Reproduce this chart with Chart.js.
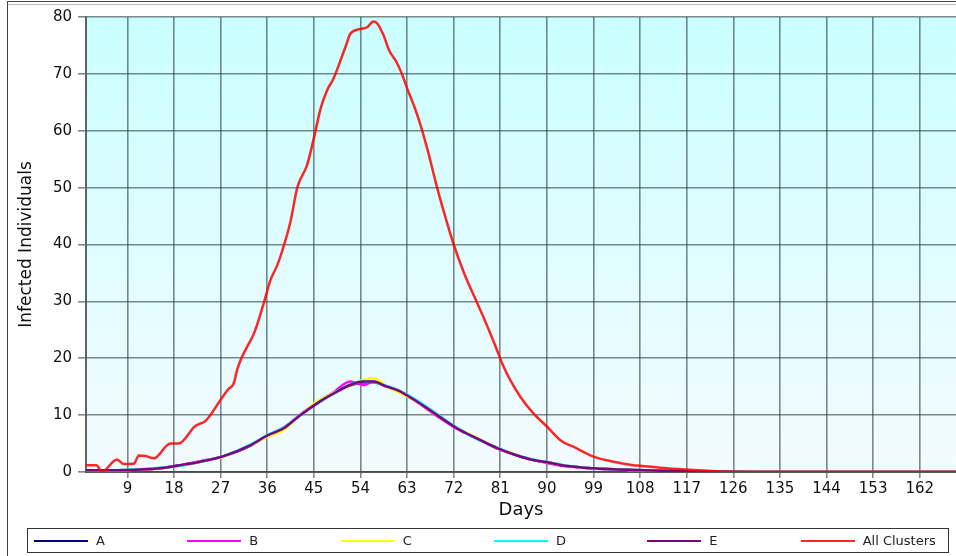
<!DOCTYPE html>
<html>
<head>
<meta charset="utf-8">
<script src="https://cdn.jsdelivr.net/npm/chart.js@4.4.1/dist/chart.umd.min.js"></script>
<style>
  body { margin: 0; background: #fff; }
  #wrap { position: relative; width: 956px; height: 556px; overflow: hidden; }
  #frame { position: absolute; left: 7px; top: 1px; width: 960px; height: 560px; border-left: 1px solid #444; border-top: 1px solid #444; box-sizing: border-box; }
  #frame2 { position: absolute; left: 8px; top: 4px; width: 960px; border-top: 1px solid #bbb; }
  #legend { position: absolute; left: 27px; top: 528px; width: 922px; height: 25px; border: 1px solid #333; box-sizing: border-box; display: flex; font-family: "DejaVu Sans", sans-serif; font-size: 13px; color: #222; }
  .item { flex: 1; display: flex; align-items: center; padding-left: 6px; }
  .swatch { width: 54px; height: 2px; margin-right: 8px; }
</style>
</head>
<body>
<div id="wrap">
  <canvas id="myChart" width="956" height="556"></canvas>
  <div id="frame"></div>
  <div id="frame2"></div>
  <div id="legend"></div>
</div>
<script>
// Infected individuals per cluster

const seriesNames = ["A", "B", "C", "D", "E", "All Clusters"];
const seriesColors = ["#000080", "#ff00ff", "#ffff00", "#00ffff", "#800080", "rgba(255,0,0,0.85)"];

const xTickLabels = [9, 18, 27, 36, 45, 54, 63, 72, 81, 90, 99, 108, 117, 126, 135, 144, 153, 162];
const yTickLabels = [0, 10, 20, 30, 40, 50, 60, 70, 80];

// cluster curves (days)
const clusterDays = [1, 5, 9.4, 14.7, 19.2, 23, 27.6, 32.7, 36, 39.2, 42.4, 45.6, 48.8, 52, 54.6, 56.5, 59.1, 61.1, 64.9, 68.8, 72.6, 76.5, 80.4, 84, 87.4, 90, 93.9, 99, 106.7, 113, 120, 130, 169];
const clusterA = [0.3, 0.3, 0.35, 0.6, 1.2, 1.8, 2.8, 4.6, 6.4, 7.8, 10.0, 12.0, 13.8, 15.2, 15.8, 15.8, 15.0, 14.3, 12.4, 10.1, 7.7, 5.9, 4.2, 3.0, 2.1, 1.7, 1.05, 0.65, 0.35, 0.2, 0.1, 0.02, 0];
const clusterB = [0.25, 0.3, 0.3, 0.65, 1.2, 1.9, 2.8, 4.7, 6.3, 7.7, 10.1, 12.3, 14.0, 15.9, 15.3, 15.9, 15.1, 14.4, 12.3, 9.8, 7.6, 5.9, 4.1, 3.0, 2.1, 1.6, 1.0, 0.6, 0.3, 0.2, 0.1, 0.02, 0];
const clusterC = [0.3, 0.3, 0.35, 0.6, 1.1, 1.8, 2.7, 4.7, 6.2, 7.4, 10.0, 12.4, 13.9, 15.2, 16.2, 16.5, 15.0, 14.1, 12.4, 10.0, 7.8, 6.0, 4.2, 3.1, 2.1, 1.7, 1.1, 0.65, 0.35, 0.2, 0.1, 0.02, 0];
const clusterD = [0.3, 0.3, 0.4, 0.7, 1.1, 1.8, 2.8, 4.8, 6.5, 7.8, 10.0, 12.1, 13.8, 15.4, 15.9, 15.8, 15.1, 14.5, 12.6, 10.2, 7.8, 5.8, 4.3, 3.0, 2.2, 1.7, 1.1, 0.65, 0.35, 0.2, 0.1, 0.02, 0];
const clusterE = [0.3, 0.3, 0.35, 0.6, 1.2, 1.8, 2.8, 4.7, 6.4, 7.7, 10.0, 12.1, 13.8, 15.3, 15.9, 15.9, 15.0, 14.4, 12.4, 10.0, 7.7, 5.9, 4.2, 3.0, 2.1, 1.7, 1.05, 0.65, 0.35, 0.2, 0.1, 0.02, 0];

// all clusters together
const allDays = [1, 3, 4.1, 7, 8.3, 9.4, 10.3, 11.2, 12.5, 14.1, 17.3, 18.9, 22.1, 24.1, 27, 28.5, 29.5, 30.2, 31, 32.1, 33.5, 35.3, 36.6, 38, 38.9, 40.5, 41.8, 43.7, 45, 46.3, 47.5, 48.8, 50, 51.4, 52, 54, 55.3, 56.5, 57.2, 58.5, 59.5, 61, 62, 63, 64.5, 65.6, 67, 68.8, 70.5, 72, 74, 76, 78, 80, 81.5, 82.9, 84.9, 87.4, 90, 92.6, 95.2, 99, 102.9, 106.7, 108, 113.2, 118.3, 124, 130, 169];
const allValues = [1.2, 1.2, 0.1, 2.2, 1.4, 1.4, 1.5, 2.9, 2.8, 2.4, 5.0, 5.0, 8.1, 9.0, 12.7, 14.6, 15.5, 18.0, 20.0, 22.0, 24.5, 29.6, 33.7, 36.5, 38.9, 44.1, 50, 54, 58.7, 63.9, 67, 69.2, 72, 75.5, 77, 77.9, 78.2, 79.2, 78.9, 76.7, 74.2, 72, 70, 67.5, 64, 61, 56.5, 50, 44.5, 40, 35, 30.8, 26.7, 22.3, 18.8, 16.2, 13.2, 10.3, 8.0, 5.6, 4.4, 2.7, 1.8, 1.2, 1.1, 0.65, 0.35, 0.1, 0.02, 0];

const toPoints = (days, values) => days.map((d, i) => ({ x: d, y: values[i] }));

const seriesData = [
  toPoints(clusterDays, clusterA),
  toPoints(clusterDays, clusterB),
  toPoints(clusterDays, clusterC),
  toPoints(clusterDays, clusterD),
  toPoints(clusterDays, clusterE),
  toPoints(allDays, allValues),
];

// draw order: later series on top, red last
const datasets = seriesNames.map((name, i) => ({
  label: name,
  data: seriesData[i],
  borderColor: seriesColors[i],
  borderWidth: 2.5,
  pointRadius: 0,
  fill: false,
  cubicInterpolationMode: "monotone",
  order: seriesNames.length - i,
}));

//background gradient
const plotBackground = {
  id: "plotBackground",
  beforeDraw(chart) {
    const { ctx, chartArea } = chart;
    const g = ctx.createLinearGradient(0, chartArea.top, 0, chartArea.bottom);
    g.addColorStop(0, "#caffff");
    g.addColorStop(1, "#f3fbff");
    ctx.save();
    ctx.fillStyle = g;
    ctx.fillRect(chartArea.left, chartArea.top, chartArea.width, chartArea.height);
    ctx.restore();
  },
};

const gridColor = "rgba(40,60,60,0.6)";

new Chart("myChart", {
  type: "line",
  data: { datasets: datasets },
  options: {
    responsive: false,
    animation: false,
    layout: { padding: { top: 17, right: 0, bottom: 32, left: 12 } },
    plugins: { legend: { display: false }, tooltip: { enabled: false } },
    scales: {
      x: {
        type: "linear",
        min: 1,
        max: 169,
        afterBuildTicks: (axis) => {
          axis.ticks = xTickLabels.map((v) => ({ value: v }));
        },
        afterFit: (axis) => {
          axis.height = 52;
        },
        grid: { color: gridColor, lineWidth: 1.6, tickLength: 6, tickColor: gridColor },
        border: { color: "rgba(60,60,60,0.8)", width: 2 },
        ticks: { color: "#111", padding: 2, maxRotation: 0, font: { family: "DejaVu Sans", size: 15 } },
        title: { display: true, text: "Days", color: "#111", padding: { top: 4, bottom: 3 }, font: { family: "DejaVu Sans", size: 18 } },
      },
      y: {
        min: 0,
        max: 80,
        afterBuildTicks: (axis) => {
          axis.ticks = yTickLabels.map((v) => ({ value: v }));
        },
        afterFit: (axis) => {
          axis.width = 74;
        },
        grid: { color: gridColor, lineWidth: 1.6, tickLength: 8, tickColor: gridColor },
        border: { color: "rgba(60,60,60,0.8)", width: 2 },
        ticks: { color: "#111", padding: 6, font: { family: "DejaVu Sans", size: 15 } },
        title: { display: true, text: "Infected Individuals", color: "#111", padding: { top: 4, bottom: 4 }, font: { family: "DejaVu Sans", size: 17 } },
      },
    },
  },
  plugins: [plotBackground],
});

//legend
const legend = document.getElementById("legend");
seriesNames.forEach((name, i) => {
  const item = document.createElement("div");
  item.className = "item";
  const sw = document.createElement("span");
  sw.className = "swatch";
  sw.style.background = seriesColors[i];
  const txt = document.createElement("span");
  txt.innerText = name;
  item.appendChild(sw);
  item.appendChild(txt);
  legend.appendChild(item);
});
</script>
</body>
</html>
